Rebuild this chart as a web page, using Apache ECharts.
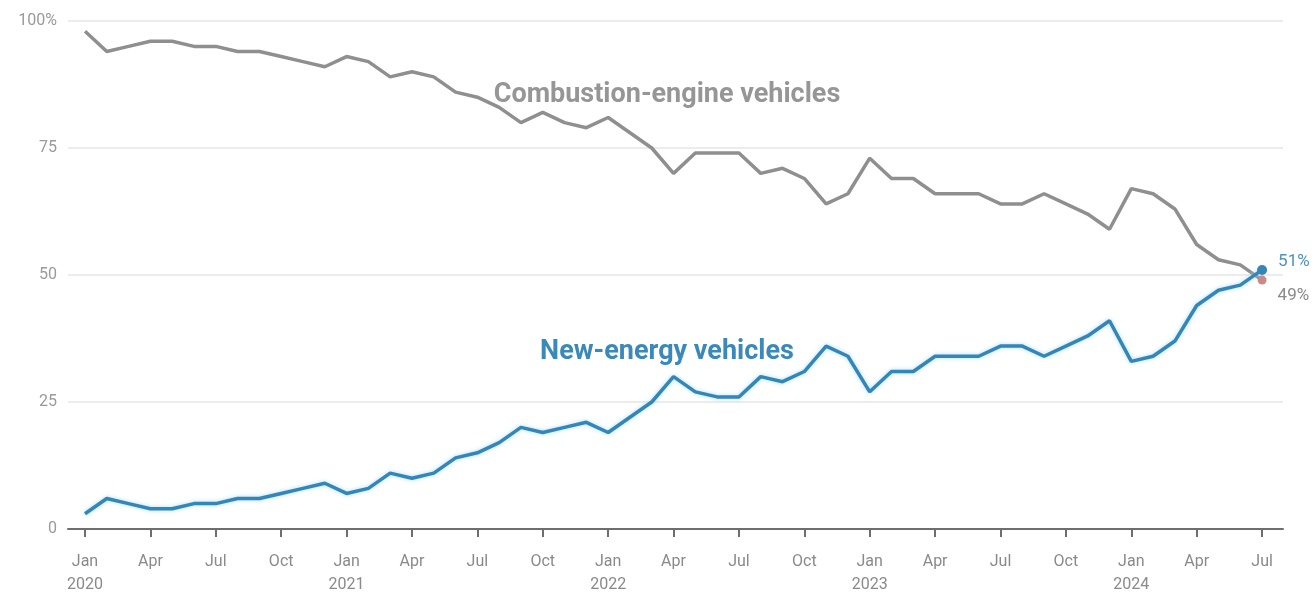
<!DOCTYPE html>
<html>
<head>
<meta charset="utf-8">
<script src="https://cdn.jsdelivr.net/npm/echarts@6/dist/echarts.min.js"></script>
<style>
  html, body { margin: 0; padding: 0; background: #fff; }
  #chart { width: 1316px; height: 594px; }
</style>
</head>
<body>
<div id="chart"></div>
<script>
// monthly share of sales, Jan 2020 .. Jul 2024 (%)
var combustion = [98,94,95,96,96,95,95,94,94,93,92,91,
                  93,92,89,90,89,86,85,83,80,82,80,79,
                  81,78,75,70,74,74,74,70,71,69,64,66,
                  73,69,69,66,66,66,64,64,66,64,62,59,
                  67,66,63,56,53,52,49];
var newEnergy  = [3,6,5,4,4,5,5,6,6,7,8,9,
                  7,8,11,10,11,14,15,17,20,19,20,21,
                  19,22,25,30,27,26,26,30,29,31,36,34,
                  27,31,31,34,34,34,36,36,34,36,38,41,
                  33,34,37,44,47,48,51];
// x tick labels, one every 3 months starting Jan 2020
var tickLabels = ['Jan\n2020','Apr','Jul','Oct','Jan\n2021','Apr','Jul','Oct',
                  'Jan\n2022','Apr','Jul','Oct','Jan\n2023','Apr','Jul','Oct',
                  'Jan\n2024','Apr','Jul'];

var tickIdx = tickLabels.map(function (_, i) { return i * 3; });
function pairs(arr) { return arr.map(function (v, i) { return [i, v]; }); }
var last = combustion.length - 1;

var chart = echarts.init(document.getElementById('chart'));
var option = {
    backgroundColor: '#fff',
    animation: false,
    textStyle: { fontFamily: 'Roboto' },
    grid: { left: 68, right: 33, top: 21, bottom: 65, outerBoundsMode: 'none' },
    xAxis: {
        type: 'value',
        min: -0.78,
        max: 54.96,
        splitLine: { show: false },
        axisLine: { show: true, lineStyle: { color: '#6e6e6e', width: 2 } },
        axisTick: { show: true, customValues: tickIdx, length: 8, lineStyle: { color: '#6e6e6e', width: 2 } },
        axisLabel: {
            customValues: tickIdx,
            color: '#8a8a8a',
            fontSize: 16,
            lineHeight: 23,
            margin: 21,
            formatter: function (v) { return tickLabels[Math.round(v / 3)]; }
        }
    },
    yAxis: {
        type: 'value',
        min: 0,
        max: 100,
        interval: 25,
        axisLine: { show: false },
        axisTick: { show: false },
        splitLine: { lineStyle: { color: '#ececec', width: 2 } },
        axisLabel: {
            color: '#9a9a9a',
            fontSize: 16,
            margin: 11,
            formatter: function (v) { return v === 100 ? '100%' : String(v); }
        }
    },
    series: [
        {
            name: 'Combustion-engine vehicles',
            type: 'line',
            data: pairs(combustion),
            showSymbol: false,
            lineStyle: { color: '#8f8f8f', width: 3.5 },
            z: 2,
            markPoint: {
                data: [
                    {
                        coord: [26.7, 85.4], symbol: 'circle', symbolSize: 0,
                        label: { show: true, position: 'inside', formatter: 'Combustion-engine vehicles',
                                 color: '#969696', fontSize: 27, fontWeight: 'bold' }
                    },
                    {
                        coord: [last, combustion[last]], symbol: 'circle', symbolSize: 9,
                        itemStyle: { color: '#c98a8a' },
                        label: { show: true, position: 'right', offset: [6, 16], formatter: combustion[last] + '%',
                                 color: '#8a8a8a', fontSize: 17 }
                    }
                ]
            }
        },
        {
            name: 'New-energy vehicles',
            type: 'line',
            data: pairs(newEnergy),
            showSymbol: false,
            lineStyle: { color: '#3586b8', width: 3.5, shadowColor: 'rgba(150,215,245,0.8)', shadowBlur: 4 },
            z: 3,
            markPoint: {
                data: [
                    {
                        coord: [26.7, 34.8], symbol: 'circle', symbolSize: 0,
                        label: { show: true, position: 'inside', formatter: 'New-energy vehicles',
                                 color: '#3a89ba', fontSize: 27, fontWeight: 'bold' }
                    },
                    {
                        coord: [last, newEnergy[last]], symbol: 'circle', symbolSize: 10,
                        itemStyle: { color: '#3586b8' },
                        label: { show: true, position: 'right', offset: [6, -8], formatter: newEnergy[last] + '%',
                                 color: '#4a92c2', fontSize: 17 }
                    }
                ]
            }
        }
    ]
};
chart.setOption(option);
</script>
</body>
</html>
